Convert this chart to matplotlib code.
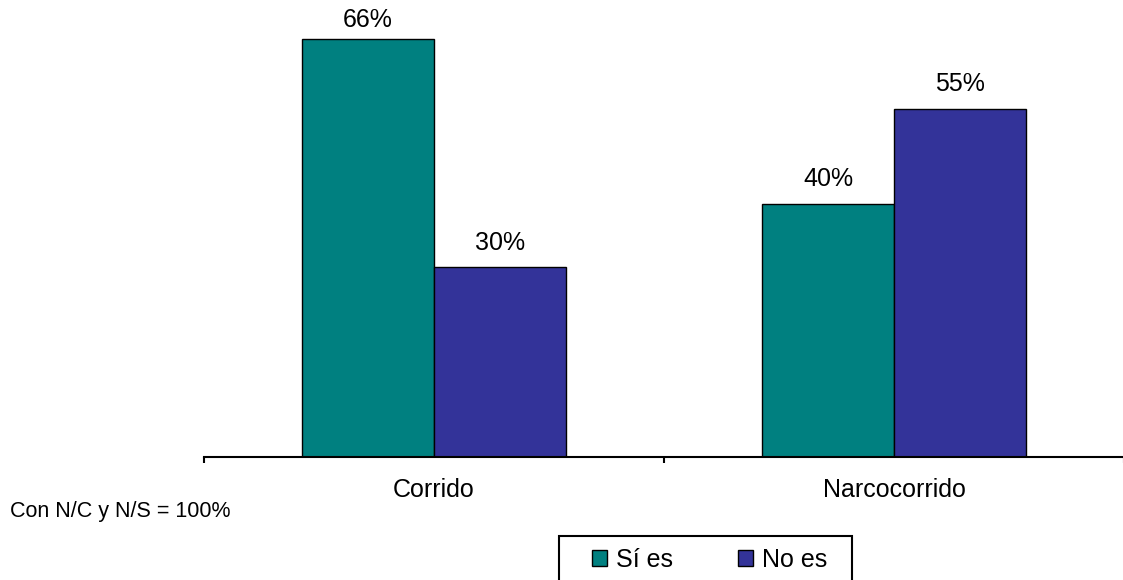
import matplotlib
matplotlib.use("Agg")
import matplotlib.pyplot as plt
from matplotlib.patches import Patch, Rectangle
import numpy as np

plt.rcParams['font.family'] = ['Liberation Sans', 'DejaVu Sans']

categories = ["Corrido", "Narcocorrido"]
series_names = ["Sí es", "No es"]
si_es = [66, 40]
no_es = [30, 55]
colors = ["#008080", "#333399"]

fig = plt.figure(figsize=(11.23, 5.80), dpi=100)
ax = fig.add_axes([204/1123, 123/580, 920/1123, 443/580])

x = np.arange(len(categories)) + 0.5
w = 132/460
b1 = ax.bar(x - w/2, si_es, w, color=colors[0], edgecolor="black", linewidth=1)
b2 = ax.bar(x + w/2, no_es, w, color=colors[1], edgecolor="black", linewidth=1)
label_cap = 65.2  # labels are kept inside the plot area
for bars, vals in ((b1, si_es), (b2, no_es)):
    for r, v in zip(bars, vals):
        ax.annotate(f"{v}%", (r.get_x() + r.get_width()/2, min(v, label_cap)), xytext=(0, 9),
                    textcoords="offset points", ha="center", va="bottom", fontsize=18)

ax.set_xlim(0, 2)
ax.set_ylim(0, 70)
for s in ("top", "right", "left"):
    ax.spines[s].set_visible(False)
ax.spines["bottom"].set_linewidth(1.5)
ax.set_yticks([])
ax.set_xticks([0, 1, 2])
ax.set_xticklabels([])
ax.tick_params(axis="x", direction="out", length=4, width=1.5)
ax.set_xticks(x, minor=True)
ax.set_xticklabels(categories, minor=True, fontsize=18)
ax.tick_params(axis="x", which="minor", length=0, pad=15)

fig.text(10/1123, 1 - 511/580, "Con N/C y N/S = 100%", fontsize=15.5, ha="left", va="center")

handles = [Patch(facecolor=c, edgecolor="black") for c in colors]
leg = fig.legend(handles, series_names, loc="center left", bbox_to_anchor=(592/1123, 1 - 560/580),
                 ncol=2, fontsize=18, frameon=False,
                 handlelength=0.6, handleheight=0.6, handletextpad=0.36, columnspacing=2.6,
                 borderpad=0, borderaxespad=0)
fig.patches.append(Rectangle((559/1123, -0.05), (852 - 559)/1123, (580 - 536)/580 + 0.05,
                             transform=fig.transFigure, fill=False, edgecolor="black",
                             linewidth=1.5, clip_on=False))

fig.savefig("out.png", dpi=100)
